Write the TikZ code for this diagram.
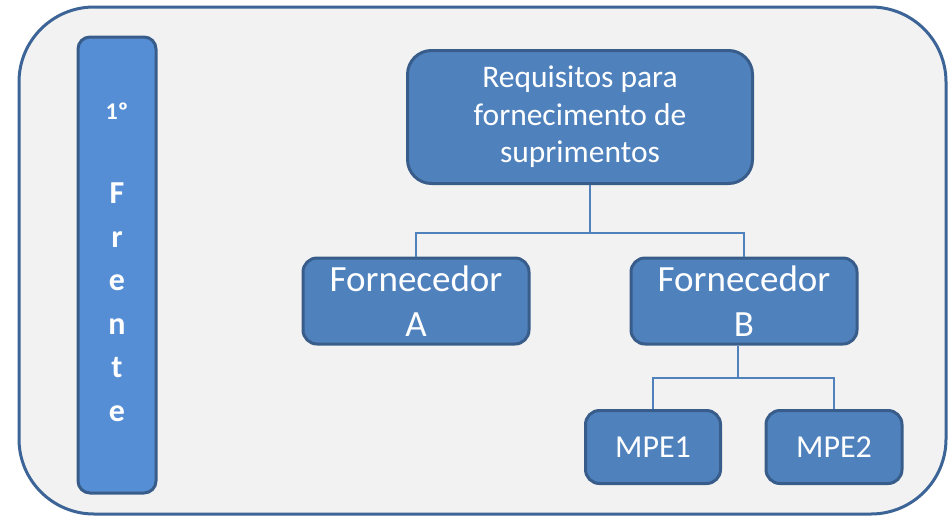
\documentclass[tikz,border=0pt]{standalone}
\usepackage{fontspec}
\setmainfont{Carlito}
\usetikzlibrary{positioning}
\definecolor{framefill}{HTML}{F2F2F2}
\definecolor{frameline}{HTML}{3C6496}
\definecolor{barfill}{HTML}{558ED5}
\definecolor{boxfill}{HTML}{4F81BD}
\definecolor{boxline}{HTML}{385D8A}
\begin{document}
\begin{tikzpicture}[x=1pt,y=-1pt,
    orgbox/.style={draw=boxline,fill=boxfill,line width=3pt,rounded corners=14pt,
      text=white,align=center,inner sep=0pt},
    link/.style={draw=boxfill,line width=1.5pt}]
  \useasboundingbox (0,0) rectangle (952,520);
  \draw[frameline,fill=framefill,line width=3pt,rounded corners=75pt] (19,7) rectangle (946,514);
  % vertical label
  \node[draw=boxline,fill=barfill,line width=3pt,rounded corners=12pt,minimum width=78pt,
    minimum height=456pt,inner sep=0pt] (bar) at (117,265) {};
  \node[text=white,align=center,font=\fontsize{32}{43.5}\selectfont\bfseries] (frente) at (117,262)
    {{\fontsize{24}{30}\selectfont 1º}\\[41pt]F\\r\\e\\n\\t\\e};
  % tree
  \node[orgbox,rounded corners=24pt,minimum width=345pt,minimum height=133pt,
    font=\fontsize{31.5}{37.5}\selectfont] (req) at (580,117)
    {Requisitos para\\fornecimento de\\suprimentos};
  \node[orgbox,minimum width=226pt,minimum height=86pt,
    font=\fontsize{37}{45}\selectfont] (fornA) at (416,301) {Fornecedor\\A};
  \node[orgbox,minimum width=226pt,minimum height=86pt,
    font=\fontsize{37}{45}\selectfont] (fornB) at (744,301) {Fornecedor\\B};
  \node[orgbox,minimum width=135pt,minimum height=73pt,
    font=\fontsize{32}{36}\selectfont] (mpeA) at (653,447) {MPE1};
  \node[orgbox,minimum width=136pt,minimum height=73pt,
    font=\fontsize{32}{36}\selectfont] (mpeB) at (834,447) {MPE2};
  \coordinate (j1) at (590,233);
  \coordinate (j2) at (738,378);
  \draw[link] ([xshift=10pt]req.south) -- (j1) -| (fornA.north);
  \draw[link] (j1) -| (fornB.north);
  \draw[link] ([xshift=-6pt]fornB.south) -- (j2) -| (mpeA.north);
  \draw[link] (j2) -| (mpeB.north);
\end{tikzpicture}
\end{document}
